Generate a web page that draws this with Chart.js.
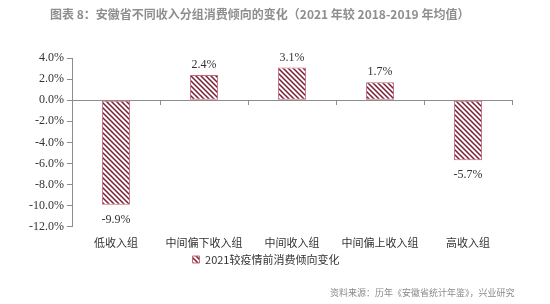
<!DOCTYPE html>
<html>
<head>
<meta charset="utf-8">
<script src="https://cdn.jsdelivr.net/npm/chart.js@4/dist/chart.umd.min.js"></script>
<style>
  html, body { margin: 0; padding: 0; background: #fff; }
  #wrap { position: relative; width: 550px; height: 304px; }
  #title { position: absolute; left: 50px; top: 5px; font: bold 12px "Noto Sans CJK SC", sans-serif; color: #8e8e8e; white-space: nowrap; }
  #source { position: absolute; left: 330px; top: 286px; font: 9px "Noto Sans CJK SC", sans-serif; color: #8a8a8a; white-space: nowrap; }
  canvas { position: absolute; left: 0; top: 0; }
</style>
</head>
<body>
<div id="wrap">
  <canvas id="chart" width="550" height="304"></canvas>
  <div id="title">图表 8：安徽省不同收入分组消费倾向的变化（2021 年较 2018-2019 年均值）</div>
  <div id="source">资料来源：历年《安徽省统计年鉴》，兴业研究</div>
</div>
<script>
const categories = ['低收入组', '中间偏下收入组', '中间收入组', '中间偏上收入组', '高收入组'];
const seriesName = '2021较疫情前消费倾向变化';
const changeValues = [-9.9, 2.4, 3.1, 1.7, -5.7];
const yTicks = [4, 2, 0, -2, -4, -6, -8, -10, -12];

// diagonal hatch fill for the bars
function makeHatch() {
  const c = document.createElement('canvas');
  c.width = 5; c.height = 5;
  const g = c.getContext('2d');
  g.fillStyle = '#fff';
  g.fillRect(0, 0, 5, 5);
  g.strokeStyle = '#7a1d33';
  g.lineWidth = 1.5;
  g.beginPath();
  g.moveTo(-1, -1); g.lineTo(6, 6);
  g.moveTo(-1, 4); g.lineTo(1, 6);
  g.moveTo(4, -1); g.lineTo(6, 1);
  g.stroke();
  return g.createPattern(c, 'repeat');
}

const valueLabels = {
  id: 'valueLabels',
  afterDatasetsDraw(chart) {
    const ctx = chart.ctx;
    const meta = chart.getDatasetMeta(0);
    ctx.save();
    ctx.font = '12px "Liberation Serif", serif';
    ctx.fillStyle = '#333';
    ctx.textAlign = 'center';
    ctx.textBaseline = 'middle';
    meta.data.forEach((bar, i) => {
      const v = changeValues[i];
      const y = v >= 0 ? bar.y - 10 : bar.y + 15;
      ctx.fillText(v.toFixed(1) + '%', bar.x, y);
    });
    ctx.restore();
  }
};

const hatchFill = makeHatch();

new Chart(document.getElementById('chart'), {
  type: 'bar',
  data: {
    labels: categories,
    datasets: [{
      label: seriesName,
      data: changeValues,
      backgroundColor: hatchFill,
      borderColor: '#c4687c',
      borderWidth: 1,
      borderSkipped: false,
      barPercentage: 0.32,
      categoryPercentage: 1
    }]
  },
  options: {
    responsive: false,
    animation: false,
    layout: { padding: { left: 20, right: 38, top: 58, bottom: 29 } },
    plugins: {
      legend: {
        position: 'bottom',
        labels: {
          boxWidth: 7,
          boxHeight: 7,
          padding: 4,
          color: '#333',
          font: { family: '"Noto Sans CJK SC", sans-serif', size: 11 }
        }
      },
      tooltip: { enabled: false }
    },
    scales: {
      x: {
        position: { y: 0 },
        offset: true,
        grid: { offset: true, drawOnChartArea: false, tickLength: 4, color: '#8c8c8c' },
        border: { color: '#8c8c8c' },
        ticks: { display: false }
      },
      x2: {
        type: 'category',
        position: 'bottom',
        labels: categories,
        offset: true,
        grid: { display: false },
        border: { display: false },
        ticks: {
          padding: 1,
          color: '#333',
          font: { family: '"Noto Sans CJK SC", sans-serif', size: 11 }
        }
      },
      y: {
        min: -12,
        max: 4,
        afterFit(scale) { scale.width = 52; },
        afterBuildTicks(scale) { scale.ticks = yTicks.map(v => ({ value: v })); },
        grid: { drawOnChartArea: false, tickLength: 5, color: '#8c8c8c' },
        border: { color: '#8c8c8c' },
        ticks: {
          padding: 3,
          color: '#333',
          font: { family: '"Liberation Serif", serif', size: 12 },
          callback: v => v.toFixed(1) + '%'
        }
      }
    }
  },
  plugins: [valueLabels]
});
</script>
</body>
</html>
